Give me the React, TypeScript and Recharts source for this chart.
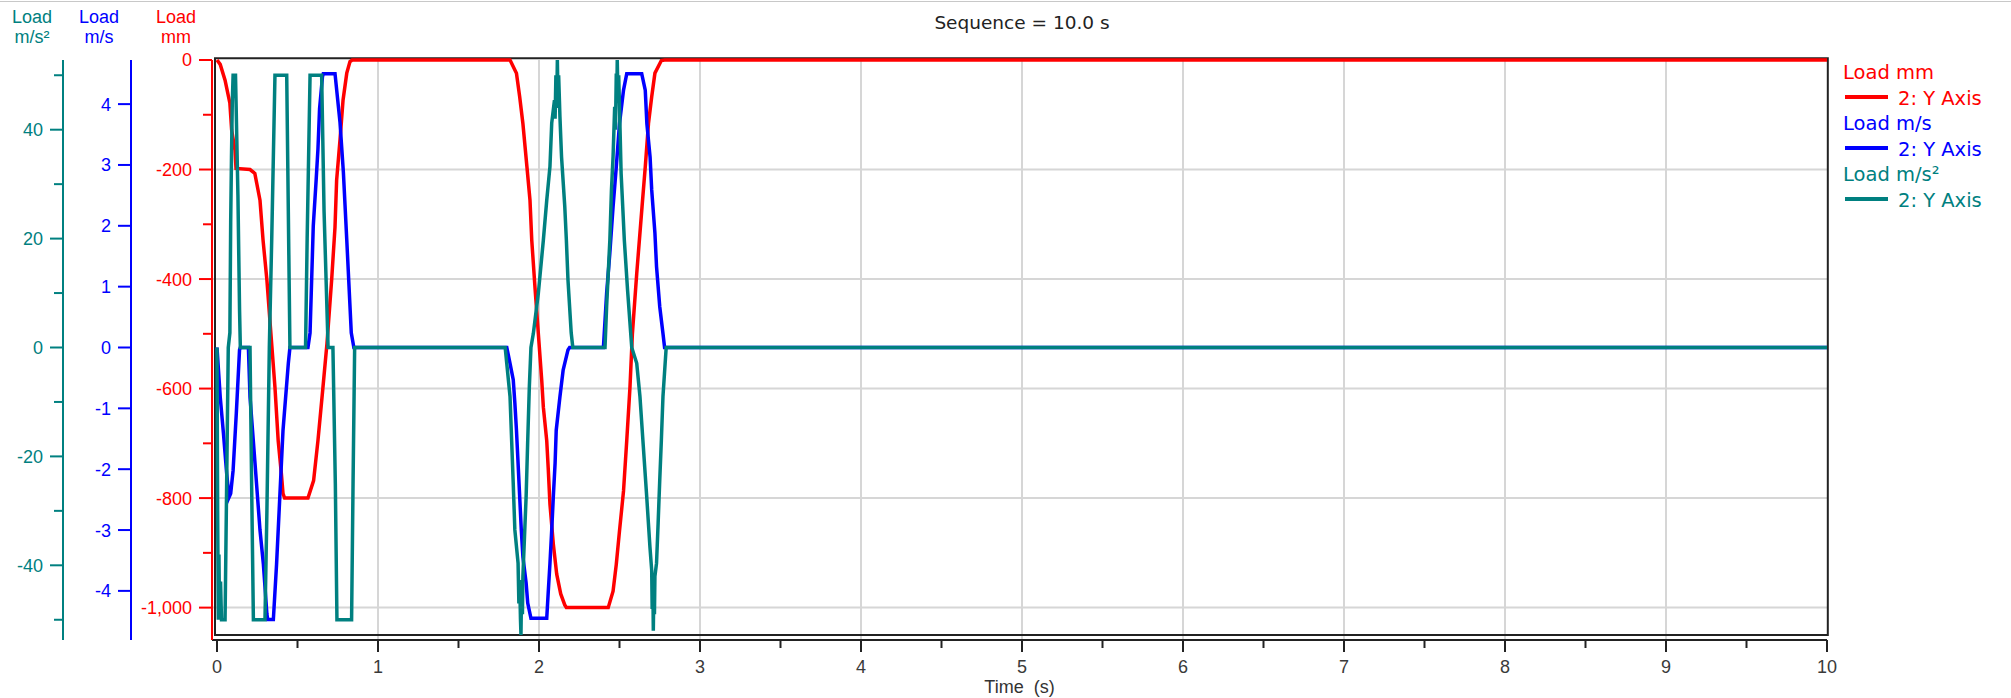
import React from 'react';
import { LineChart, Line, XAxis, YAxis, CartesianGrid, ReferenceArea, Label } from 'recharts';

const RED = '#ff0000';
const BLUE = '#0000ff';
const TEAL = '#008080';
const TICK_FONT = '"Liberation Sans", Arial, sans-serif';
const TEXT_FONT = '"DejaVu Sans", Verdana, sans-serif';

// ---- data (time s, value) ----
const loadMmPoints: [number, number][] = [
  [0, 0], [0.02, -8], [0.05, -37], [0.08, -79], [0.091, -128], [0.112, -165], [0.118, -198],
  [0.205, -200], [0.235, -207], [0.267, -256], [0.286, -329], [0.31, -402], [0.33, -481],
  [0.36, -598], [0.38, -695], [0.4, -756], [0.41, -792], [0.42, -800], [0.565, -800],
  [0.6, -768], [0.627, -695], [0.658, -598], [0.683, -518], [0.712, -402], [0.733, -305],
  [0.743, -220], [0.764, -146], [0.783, -73], [0.806, -24], [0.826, -3], [0.84, 0],
  [1.82, 0], [1.86, -24], [1.88, -67], [1.9, -116], [1.925, -195], [1.944, -256], [1.955, -329],
  [1.975, -415], [1.996, -500], [2.017, -585], [2.027, -634], [2.048, -695], [2.058, -750],
  [2.068, -811], [2.089, -884], [2.11, -939], [2.135, -975], [2.16, -995], [2.17, -1000],
  [2.43, -1000], [2.46, -970], [2.48, -921], [2.5, -860], [2.525, -787], [2.545, -695],
  [2.565, -598], [2.58, -500], [2.607, -390], [2.64, -268], [2.66, -195], [2.68, -116],
  [2.7, -67], [2.72, -24], [2.76, -1], [2.78, 0], [10, 0],
];

const loadMsPoints: [number, number][] = [
  [0, 0], [0.02, -0.81], [0.04, -1.41], [0.06, -2.07], [0.075, -2.46], [0.085, -2.4], [0.1, -2.02],
  [0.12, -1.08], [0.14, -0.04], [0.145, 0], [0.195, 0], [0.205, -0.81], [0.236, -1.9],
  [0.267, -3.0], [0.288, -3.56], [0.31, -4.38], [0.315, -4.47], [0.35, -4.47], [0.37, -3.56],
  [0.39, -2.46], [0.41, -1.36], [0.443, -0.26], [0.453, 0], [0.565, 0], [0.578, 0.24],
  [0.598, 2.0], [0.616, 2.76], [0.627, 3.26], [0.637, 3.92], [0.655, 4.45], [0.66, 4.5],
  [0.733, 4.5], [0.764, 3.7], [0.785, 2.88], [0.806, 1.77], [0.834, 0.24], [0.85, 0],
  [1.8, 0], [1.82, -0.26], [1.84, -0.53], [1.85, -0.91], [1.86, -1.36], [1.87, -1.9], [1.88, -2.45],
  [1.89, -3.0], [1.9, -3.44], [1.92, -3.87], [1.93, -4.2], [1.95, -4.45], [2.048, -4.45],
  [2.058, -3.99], [2.068, -3.55], [2.079, -3.0], [2.089, -2.45], [2.1, -1.9], [2.107, -1.36],
  [2.13, -0.81], [2.15, -0.37], [2.18, -0.04], [2.19, 0], [2.4, 0], [2.42, 0.89], [2.44, 1.55],
  [2.46, 2.31], [2.48, 2.97], [2.5, 3.68], [2.525, 4.23], [2.545, 4.5], [2.638, 4.5],
  [2.66, 4.23], [2.67, 3.68], [2.69, 3.13], [2.7, 2.59], [2.72, 1.88], [2.73, 1.33],
  [2.75, 0.67], [2.77, 0.23], [2.78, 0], [10, 0],
];

const loadMs2Points: [number, number][] = [
  [0, 0], [0.004, -30], [0.008, -50], [0.012, -38], [0.016, -50], [0.022, -43], [0.028, -50],
  [0.05, -50], [0.06, -25], [0.07, 0], [0.08, 2.7], [0.085, 23], [0.09, 35], [0.095, 45],
  [0.1, 50], [0.115, 50], [0.13, 28], [0.14, 7], [0.145, 0], [0.205, 0], [0.215, -25],
  [0.226, -50], [0.298, -50], [0.31, -30], [0.325, 0], [0.34, 20], [0.36, 50], [0.433, 50],
  [0.443, 25], [0.453, 0], [0.55, 0], [0.56, 20], [0.578, 50], [0.65, 50], [0.665, 25],
  [0.69, 0], [0.72, 0], [0.735, -25], [0.745, -50], [0.836, -50], [0.845, -25], [0.855, 0],
  [1.79, 0], [1.8, -3], [1.82, -9], [1.83, -17], [1.84, -25], [1.85, -33.5], [1.87, -39.6],
  [1.875, -47], [1.88, -42.7], [1.885, -50], [1.888, -52.8], [1.892, -44], [1.897, -49],
  [1.9, -42], [1.91, -34.7], [1.92, -27.4], [1.93, -17], [1.94, -7.2], [1.95, 0], [1.965, 2.6],
  [1.996, 10], [2.027, 19.7], [2.048, 27], [2.068, 33.2], [2.079, 41.2], [2.096, 45.4],
  [2.1, 42], [2.105, 50], [2.11, 44], [2.114, 52.8], [2.118, 46], [2.122, 50], [2.13, 42.4],
  [2.14, 35], [2.16, 25.9], [2.17, 19.7], [2.18, 12.4], [2.2, 2.7], [2.21, 0], [2.41, 0],
  [2.42, 7.5], [2.44, 19.7], [2.45, 28.9], [2.46, 35], [2.47, 44.2], [2.475, 40], [2.48, 50.3],
  [2.483, 45], [2.486, 52.8], [2.49, 47], [2.495, 50], [2.5, 44.2], [2.51, 32], [2.52, 25.9],
  [2.53, 19.7], [2.55, 10.6], [2.576, 0], [2.607, -2.9], [2.627, -9], [2.648, -18.2],
  [2.669, -27.4], [2.689, -36.6], [2.7, -40.9], [2.703, -48], [2.707, -43], [2.71, -52],
  [2.713, -45], [2.717, -49], [2.72, -42], [2.73, -39.6], [2.74, -32.2], [2.75, -24.3],
  [2.76, -17], [2.77, -9], [2.79, 0], [10, 0],
];

// ---- ticks ----
const timeTicks = [0, 0.5, 1, 1.5, 2, 2.5, 3, 3.5, 4, 4.5, 5, 5.5, 6, 6.5, 7, 7.5, 8, 8.5, 9, 9.5, 10];
const timeGridLines = [1, 2, 3, 4, 5, 6, 7, 8, 9];
const mmTicks = [0, -100, -200, -300, -400, -500, -600, -700, -800, -900, -1000];
const mmGridLines = [-200, -400, -600, -800, -1000];
const msTicks = [4, 3, 2, 1, 0, -1, -2, -3, -4];
const ms2Ticks = [50, 40, 30, 20, 10, 0, -10, -20, -30, -40, -50];

const mmDomain = [-1050, 0];
const msDomain = [-4.725, 4.725];
const ms2Domain = [-52.8, 52.8];
// plot frame drawn slightly outside the data range (as in the reference)
const frameX = [-0.0125, 10.005];
const frameY = [-1050, 3];

const series = [
  { name: 'Load mm', color: RED },
  { name: 'Load m/s', color: BLUE },
  { name: 'Load m/s\u00b2', color: TEAL },
];

const toRows = (pts: [number, number][]) => pts.map(([t, v]) => ({ t, v }));
const mmRows = toRows(loadMmPoints);
const msRows = toRows(loadMsPoints);
const ms2Rows = toRows(loadMs2Points);

const fmt = (v: number) => v.toLocaleString('en-US');

function YTick(props: any) {
  const { x, y, payload, color, isLabelled } = props;
  const v = payload.value;
  const labelled = isLabelled(v);
  const len = labelled ? 13 : 9;
  return (
    <g>
      <line x1={x} x2={x - len} y1={y} y2={y} stroke={color} strokeWidth={2} />
      {labelled && (
        <text x={x - 20} y={y} dy="0.36em" textAnchor="end" fill={color} fontSize={18} fontFamily={TICK_FONT}>
          {fmt(v)}
        </text>
      )}
    </g>
  );
}

function XTick(props: any) {
  const { x, y, payload } = props;
  const v = payload.value;
  const major = Number.isInteger(v);
  return (
    <g>
      <line x1={x} x2={x} y1={y} y2={y + (major ? 12 : 8)} stroke="#222" strokeWidth={2} />
      {major && (
        <text x={x} y={y + 27} dy="0.36em" textAnchor="middle" fill="#3a3a3a" fontSize={18} fontFamily={TICK_FONT}>
          {v}
        </text>
      )}
    </g>
  );
}

function axisTitle(lines: string[], color: string, fromLine: number) {
  return (p: any) => {
    const vb = p.viewBox || {};
    const cx = vb.x + vb.width - fromLine;
    return (
      <g>
        <text x={cx} y={vb.y - 37} textAnchor="middle" fill={color} fontSize={18} fontFamily={TICK_FONT}>{lines[0]}</text>
        <text x={cx} y={vb.y - 17} textAnchor="middle" fill={color} fontSize={18} fontFamily={TICK_FONT}>{lines[1]}</text>
      </g>
    );
  };
}

export default function App() {
  return (
    <div style={{ position: 'absolute', left: 0, top: 0, width: 2011, height: 698, background: '#fff', overflow: 'hidden' }}>
      <div style={{ position: 'absolute', left: 0, top: 1, width: 2011, height: 1, background: '#c8c8c8' }} />
      <div
        style={{
          position: 'absolute', left: 872, top: 12, width: 300, textAlign: 'center',
          fontFamily: TEXT_FONT, fontSize: 18.5, lineHeight: '22px', color: '#222',
        }}
      >
        Sequence = 10.0 s
      </div>
      <LineChart width={2011} height={698} margin={{ top: 60, right: 184, bottom: 0, left: 0 }}>
        <CartesianGrid
          xAxisId="t"
          yAxisId="mm"
          stroke="#d6d6d6"
          strokeWidth={2}
          horizontalValues={mmGridLines}
          verticalValues={timeGridLines}
        />
        <XAxis
          xAxisId="t"
          dataKey="t"
          type="number"
          domain={[0, 10]}
          ticks={timeTicks}
          interval={0}
          height={58}
          padding={{ left: 5, right: 0 }}
          tickSize={0}
          tickMargin={0}
          tickLine={false}
          axisLine={{ stroke: '#222', strokeWidth: 2 }}
          tick={(p: any) => <XTick {...p} />}
        >
          <Label
            content={(p: any) => {
              const vb = p.viewBox || {};
              return (
                <text x={vb.x + vb.width / 2} y={vb.y + 53} textAnchor="middle" fill="#333" fontSize={18} fontFamily={TICK_FONT} style={{ whiteSpace: 'pre' }}>
                  {'Time  (s)'}
                </text>
              );
            }}
          />
        </XAxis>
        <YAxis
          yAxisId="mm"
          type="number"
          domain={mmDomain}
          ticks={mmTicks}
          interval={0}
          width={81}
          padding={{ top: 0, bottom: 5 }}
          tickSize={0}
          tickMargin={0}
          tickLine={false}
          axisLine={{ stroke: RED, strokeWidth: 2 }}
          tick={(p: any) => <YTick {...p} color={RED} isLabelled={(v: number) => v % 200 === 0} />}
        >
          <Label content={axisTitle(['Load', 'mm'], RED, 36)} />
        </YAxis>
        <YAxis
          yAxisId="ms"
          type="number"
          domain={msDomain}
          ticks={msTicks}
          interval={0}
          width={68}
          padding={{ top: 0, bottom: 5 }}
          tickSize={0}
          tickMargin={0}
          tickLine={false}
          axisLine={{ stroke: BLUE, strokeWidth: 2 }}
          tick={(p: any) => <YTick {...p} color={BLUE} isLabelled={() => true} />}
        >
          <Label content={axisTitle(['Load', 'm/s'], BLUE, 32)} />
        </YAxis>
        <YAxis
          yAxisId="ms2"
          type="number"
          domain={ms2Domain}
          ticks={ms2Ticks}
          interval={0}
          width={63}
          padding={{ top: 0, bottom: 5 }}
          tickSize={0}
          tickMargin={0}
          tickLine={false}
          axisLine={{ stroke: TEAL, strokeWidth: 2 }}
          tick={(p: any) => <YTick {...p} color={TEAL} isLabelled={(v: number) => v % 20 === 0} />}
        >
          <Label content={axisTitle(['Load', 'm/s\u00b2'], TEAL, 31)} />
        </YAxis>
        <Line xAxisId="t" yAxisId="mm" data={mmRows} dataKey="v" name="Load mm" type="linear" stroke={RED} strokeWidth={3.5} dot={false} isAnimationActive={false} />
        <Line xAxisId="t" yAxisId="ms" data={msRows} dataKey="v" name="Load m/s" type="linear" stroke={BLUE} strokeWidth={3.5} dot={false} isAnimationActive={false} />
        <Line xAxisId="t" yAxisId="ms2" data={ms2Rows} dataKey="v" name="Load m/s²" type="linear" stroke={TEAL} strokeWidth={3.5} dot={false} isAnimationActive={false} />
        <ReferenceArea
          xAxisId="t"
          yAxisId="mm"
          x1={frameX[0]}
          x2={frameX[1]}
          y1={frameY[0]}
          y2={frameY[1]}
          ifOverflow="visible"
          fill="none"
          stroke="#222"
          strokeWidth={2}
        />
      </LineChart>
      <div style={{ position: 'absolute', left: 1843, top: 60, fontFamily: TEXT_FONT, fontSize: 19.5, lineHeight: '25.6px' }}>
        {series.map((s) => (
          <div key={s.name} style={{ color: s.color }}>
            <div style={{ whiteSpace: 'nowrap' }}>{s.name}</div>
            <div style={{ whiteSpace: 'nowrap', position: 'relative' }}>
              <span style={{ display: 'inline-block', width: 43, height: 4, background: s.color, verticalAlign: 'middle', marginLeft: 2, marginRight: 10, position: 'relative', top: -2 }} />
              2: Y Axis
            </div>
          </div>
        ))}
      </div>
    </div>
  );
}
